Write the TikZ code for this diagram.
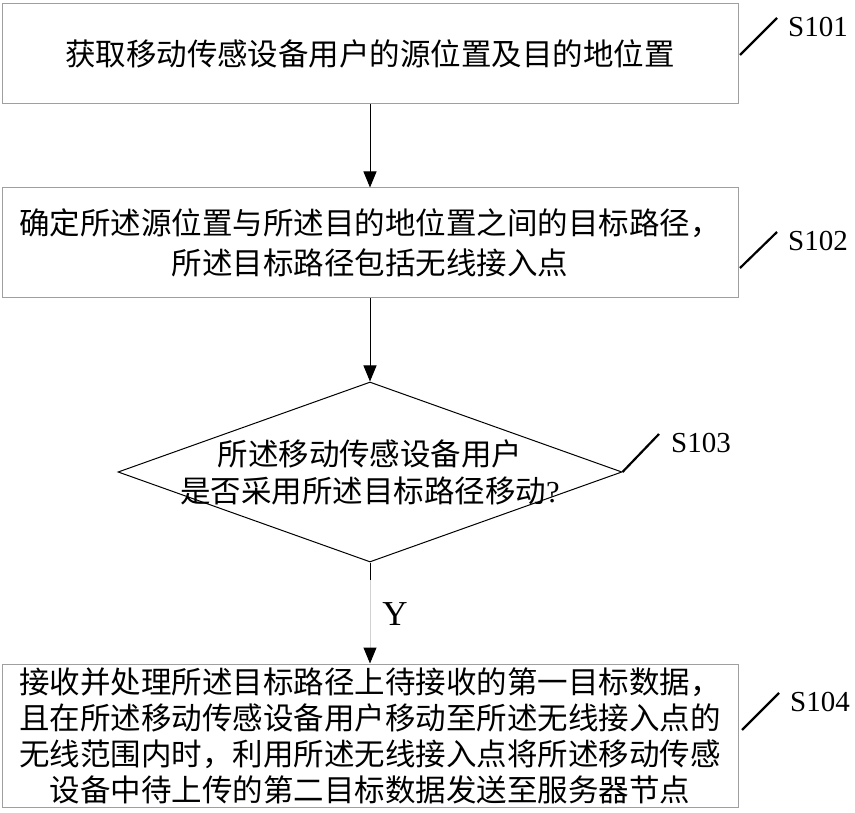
\documentclass[tikz,border=0pt]{standalone}
\usepackage{fontspec}
\setmainfont{Liberation Serif}
\newfontfamily\cjk{Noto Sans CJK SC}
\usetikzlibrary{arrows.meta,shapes.geometric}
\begin{document}
\begin{tikzpicture}[x=1pt,y=-1pt,
  stepbox/.style={draw=gray!75, line width=1pt, inner sep=0pt, minimum width=736pt, align=center, font=\cjk\fontsize{30.5}{36}\selectfont},
  decide/.style={draw=black, line width=1pt, diamond, inner sep=0pt, minimum width=504pt, minimum height=180pt},
  flow/.style={line width=1pt, -{Triangle[length=16pt,width=13pt]}},
  tick/.style={line width=2.2pt},
  steplabel/.style={anchor=west, inner sep=0pt, font=\fontsize{29}{32}\selectfont},
]
\useasboundingbox (0,0) rectangle (855,813);

\node[stepbox, minimum height=100pt] (b1) at (370,54) {获取移动传感设备用户的源位置及目的地位置};
\node[stepbox, minimum height=110pt, font=\cjk\fontsize{30.5}{40}\selectfont] (b2) at (370,243) {确定所述源位置与所述目的地位置之间的目标路径，\\所述目标路径包括无线接入点};
\node[decide] (d) at (370,472) {};
\node[inner sep=0pt, align=center, font=\cjk\fontsize{30.5}{37}\selectfont] (dt) at (370,472) {所述移动传感设备用户\\是否采用所述目标路径移动{\rmfamily ?}};
\node[stepbox, minimum height=143pt] (b4) at (370,735.5) {接收并处理所述目标路径上待接收的第一目标数据，\\且在所述移动传感设备用户移动至所述无线接入点的\\无线范围内时，利用所述无线接入点将所述移动传感\\设备中待上传的第二目标数据发送至服务器节点};

\draw[flow] (b1.south) -- (b2.north);
\draw[flow] (b2.south) -- (d.north);
\coordinate (dlow) at (370,580);
\draw[line width=1pt, gray!35, -{Triangle[length=16pt,width=13pt,black]}] (dlow) -- (b4.north);
\draw[line width=1pt] (d.south) -- (dlow);
\node[inner sep=0pt, font=\fontsize{35}{38}\selectfont] (y) at (395,614) {Y};

\coordinate (t1a) at (740,55); \coordinate (t1b) at (777,18);
\coordinate (t2a) at (740,268); \coordinate (t2b) at (777,232);
\coordinate (t3b) at (659,434);
\coordinate (t4a) at (742,730); \coordinate (t4b) at (779,693);
\draw[tick] (t1a) -- (t1b);
\draw[tick] (t2a) -- (t2b);
\draw[tick] (d.east) -- (t3b);
\draw[tick] (t4a) -- (t4b);
\node[steplabel] (s1) at (788,27) {S101};
\node[steplabel] (s2) at (788,241) {S102};
\node[steplabel] (s3) at (671,443) {S103};
\node[steplabel] (s4) at (790,702) {S104};
\end{tikzpicture}
\end{document}
